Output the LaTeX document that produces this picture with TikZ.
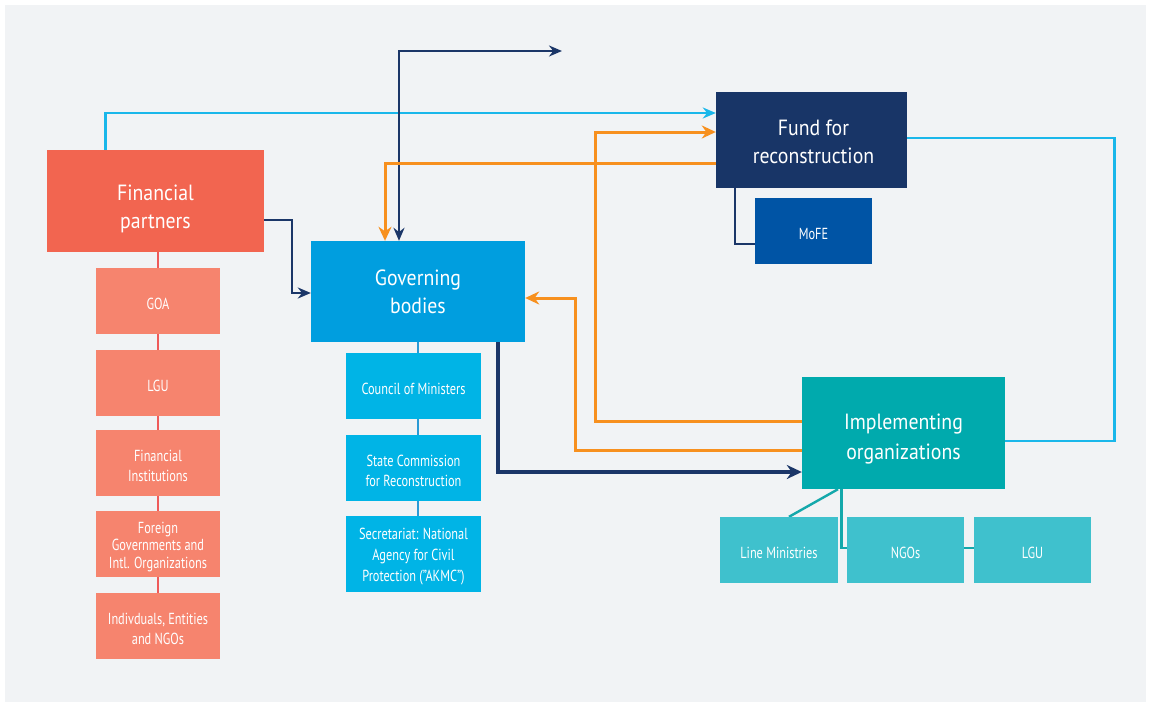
\documentclass[tikz,border=0pt]{standalone}
\usepackage{fontspec}
\setmainfont{PT Sans}
\newfontfamily\bigfont[FakeStretch=0.9]{PT Sans}
\newfontfamily\condfont[FakeStretch=0.77]{PT Sans}
\usetikzlibrary{arrows.meta}
\pgfdeclarelayer{bg}\pgfdeclarelayer{lines}\pgfsetlayers{bg,lines,main}
\definecolor{pagebg}{HTML}{F1F3F5}
\definecolor{fpcol}{HTML}{F26550}
\definecolor{fpsub}{HTML}{F6846E}
\definecolor{gbcol}{HTML}{009EDF}
\definecolor{gbsub}{HTML}{00B4E6}
\definecolor{fundcol}{HTML}{183567}
\definecolor{mofecol}{HTML}{0054A5}
\definecolor{implcol}{HTML}{00AAAD}
\definecolor{implsub}{HTML}{3FC1CD}
\definecolor{cyanc}{HTML}{1AB7EA}
\definecolor{orangec}{HTML}{F7901E}
\definecolor{navyc}{HTML}{1B3668}
\definecolor{redc}{HTML}{EF5A5A}
\definecolor{gblinec}{HTML}{2A9AD5}
\definecolor{tealc}{HTML}{14A8AB}
\begin{document}
\begin{tikzpicture}[x=1pt,y=-1pt,
  fbox/.style={rectangle, inner sep=0pt},
  bigtxt/.style={text=white, align=center, inner sep=0pt, font=\bigfont\fontsize{22}{28}\selectfont},
  smalltxt/.style={text=white, align=center, inner sep=0pt, yshift=-3pt, font=\condfont\fontsize{16}{20}\selectfont},
  small/.style={fbox, minimum width=#1, minimum height=66pt},
  small/.default=124pt,
  cyanl/.style={draw=cyanc, line width=2.8pt},
  orangel/.style={draw=orangec, line width=3pt},
  navyl/.style={draw=navyc, line width=2.5pt},
  navythick/.style={draw=navyc, line width=3.8pt},
  tipa/.style={-{Stealth[length=13pt,width=11pt]}},
  tipo/.style={-{Stealth[length=14pt,width=13pt]}},
]
\useasboundingbox (0,0) rectangle (1151,707);
\begin{pgfonlayer}{bg}
\fill[white] (0,0) rectangle (1151,707);
\fill[pagebg] (5,5) rectangle (1146,702);
\end{pgfonlayer}

% Financial partners column
\node[fbox, fill=fpcol, minimum width=217pt, minimum height=102pt,
  label={[bigtxt, yshift=-7.5pt]center:{Financial\\partners}}] (fp) at (155.5,201) {};
\node[small, fill=fpsub, label={[smalltxt]center:GOA}] (goa) at (158,301) {};
\node[small, fill=fpsub, label={[smalltxt]center:LGU}] (lgua) at (158,383) {};
\node[small, fill=fpsub, label={[smalltxt]center:{Financial\\Institutions}}] (fi) at (158,463) {};
\node[small, fill=fpsub, label={[smalltxt, font=\condfont\fontsize{16}{17.5}\selectfont]center:{Foreign\\Governments and\\Intl. Organizations}}] (fg) at (158,544) {};
\node[small, fill=fpsub, label={[smalltxt]center:{Indivduals, Entities\\and NGOs}}] (ind) at (158,626) {};

% Governing bodies column
\node[fbox, fill=gbcol, minimum width=214pt, minimum height=101pt,
  label={[bigtxt]center:{Governing\\bodies}}] (gb) at (418,291.5) {};
\node[small=135pt, fill=gbsub, label={[smalltxt]center:{Council of Ministers}}] (com) at (413.5,386) {};
\node[small=135pt, fill=gbsub, label={[smalltxt]center:{State Commission\\for Reconstruction}}] (sc) at (413.5,468) {};
\node[small=135pt, fill=gbsub, minimum height=76pt, label={[smalltxt, font=\condfont\fontsize{16}{21}\selectfont]center:{Secretariat: National\\Agency for Civil\\Protection (”AKMC”)}}] (sec) at (413.5,554) {};

% Fund
\node[fbox, fill=fundcol, minimum width=191pt, minimum height=96pt,
  label={[bigtxt, xshift=2pt, yshift=-1.5pt]center:{Fund for\\reconstruction}}] (fund) at (811.5,140) {};
\node[small=117pt, fill=mofecol, label={[smalltxt]center:MoFE}] (mofe) at (813.5,231) {};

% Implementing
\node[fbox, fill=implcol, minimum width=203pt, minimum height=112pt,
  label={[bigtxt, yshift=-6.5pt, font=\bigfont\fontsize{22}{30}\selectfont]center:{Implementing\\organizations}}] (impl) at (903.5,433) {};
\node[small=118pt, fill=implsub, label={[smalltxt]center:{Line Ministries}}] (lm) at (779,550) {};
\node[small=117pt, fill=implsub, label={[smalltxt]center:NGOs}] (ngo) at (905.5,550) {};
\node[small=117pt, fill=implsub, label={[smalltxt]center:LGU}] (lgub) at (1032.5,550) {};

\coordinate (topend) at (562,51);

\begin{pgfonlayer}{lines}
% sub-box spines
\draw[draw=redc, line width=2.4pt] (goa.north |- fp.south) -- (ind.north);
\draw[draw=gblinec, line width=2.4pt] (gb.south) -- (gb.south |- sec.north);
\draw[draw=tealc, line width=2.4pt] ([xshift=-65.5pt]impl.south) -- ([xshift=10pt]lm.north);
\draw[draw=tealc, line width=2.4pt] ([xshift=-62pt]impl.south) |- ([yshift=2pt]ngo.west);
\draw[draw=tealc, line width=2.4pt] ([yshift=2pt]ngo.east) -- ([yshift=2pt]lgub.west);
\draw[navyl, line width=2pt] ([xshift=-76.5pt]fund.south) |- ([yshift=-13pt]mofe.west);

% flows
\draw[cyanl, tipa] ([xshift=59pt]fp.north west) |- ([yshift=27pt]fund.west);
\draw[navyl, {Stealth[length=13pt,width=11pt]}-{Stealth[length=13pt,width=11pt]}] ([xshift=-19pt]gb.north) |- (topend);
\draw[orangel, tipo] ([yshift=-23pt]fund.west) -| ([xshift=-33pt]gb.north);
\draw[orangel, tipo] ([yshift=12pt]impl.west) -| ([xshift=-120pt,yshift=8pt]fund.west) -- ([yshift=8pt]fund.west);
\draw[orangel, tipo] ([yshift=-17pt]impl.west) -| ([xshift=50pt,yshift=-6.5pt]gb.east) -- ([yshift=-6.5pt]gb.east);
\draw[navythick, -{Stealth[length=15pt,width=14pt]}] ([xshift=80pt]gb.south) |- ([yshift=-39pt]impl.west);
\draw[navyl, tipa] ([yshift=-19pt]fp.east) -| ([xshift=-19pt,yshift=-1.5pt]gb.west) -- ([yshift=-1.5pt]gb.west);
\draw[cyanl] ([yshift=2pt]fund.east) -| ([xshift=109pt,yshift=-8pt]impl.east) -- ([yshift=-8pt]impl.east);
\end{pgfonlayer}
\end{tikzpicture}
\end{document}
